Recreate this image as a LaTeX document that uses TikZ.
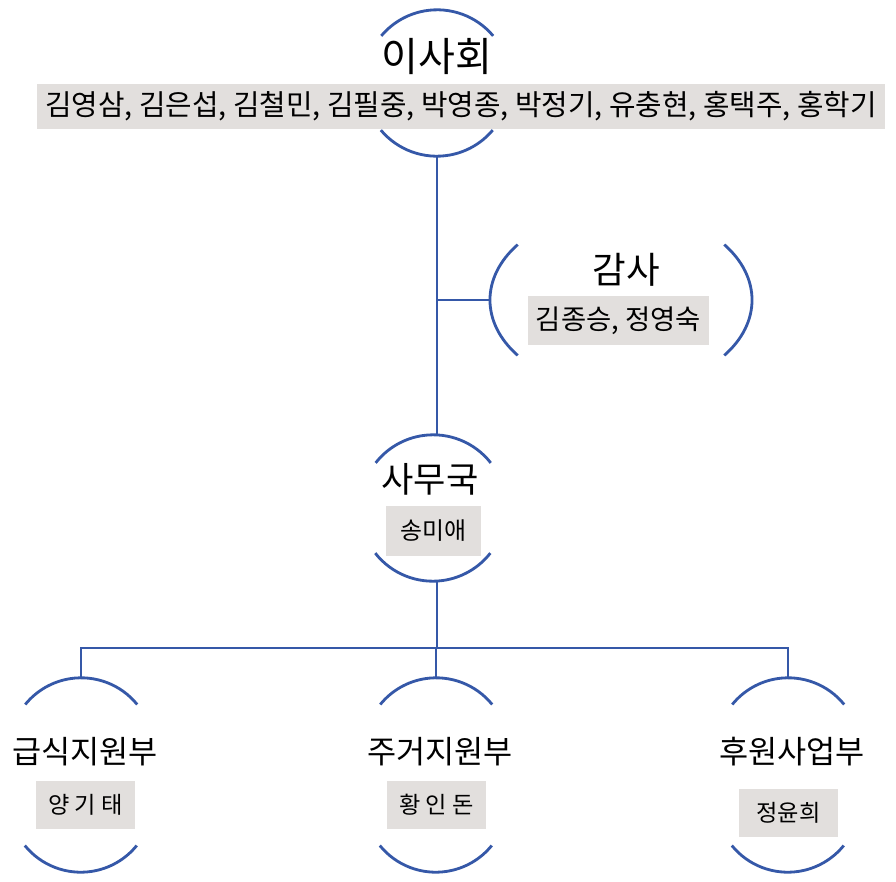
\documentclass[tikz,border=0pt]{standalone}
\usepackage{fontspec}
\setmainfont{Noto Sans CJK KR}
\usetikzlibrary{shapes.geometric}
\definecolor{orgblue}{HTML}{3558A8}
\definecolor{namegray}{HTML}{E2DFDD}
\begin{document}
\begin{tikzpicture}[x=0.025cm, y=0.025cm]
\tikzstyle{unit}=[circle, inner sep=0pt, minimum size=3.65cm]
\tikzstyle{rim}=[draw=orgblue, line width=2pt]
\tikzstyle{link}=[draw=orgblue, line width=2pt]
\tikzstyle{head}=[inner sep=0pt, text=black]
\tikzstyle{namebox}=[fill=namegray, inner sep=0pt, text=black]
  \useasboundingbox[fill=white] (0,0) rectangle (896,-882);
  % board
  \node[unit] (board) at (437,-83) {};
  \draw[rim] (board.40) arc[start angle=40, end angle=140, radius=1.825cm];
  \draw[rim] (board.220) arc[start angle=220, end angle=320, radius=1.825cm];
  \node[head, font=\fontsize{28.5pt}{32pt}\selectfont] (boardtitle) at (437,-57) {이사회};
  \node[namebox, minimum width=21.2cm, minimum height=1.125cm,
        font=\fontsize{20.5pt}{24pt}\selectfont] (boardnames) at (461,-106.5)
       {김영삼, 김은섭, 김철민, 김필중, 박영종, 박정기, 유충현, 홍택주, 홍학기};
  % audit
  \node[ellipse, inner sep=0pt, minimum width=6.55cm, minimum height=4.5cm] (audit) at (621,-300) {};
  \draw[rim] (audit.center) ++(142:3.275cm and 2.25cm)
    arc[start angle=142, end angle=218, x radius=3.275cm, y radius=2.25cm];
  \draw[rim] (audit.center) ++(-38:3.275cm and 2.25cm)
    arc[start angle=-38, end angle=38, x radius=3.275cm, y radius=2.25cm];
  \node[head, font=\fontsize{26pt}{30pt}\selectfont] (audittitle) at (626,-270) {감사};
  \node[namebox, minimum width=4.525cm, minimum height=1.225cm,
        font=\fontsize{19.5pt}{23pt}\selectfont] (auditnames) at (618.5,-320.5) {김종승, 정영숙};
  % office
  \node[unit] (office) at (433,-508) {};
  \draw[rim] (office.38) arc[start angle=38, end angle=142, radius=1.825cm];
  \draw[rim] (office.218) arc[start angle=218, end angle=322, radius=1.825cm];
  \node[head, font=\fontsize{25pt}{29pt}\selectfont] (officetitle) at (430,-479) {사무국};
  \node[namebox, minimum width=2.375cm, minimum height=1.25cm,
        font=\fontsize{17pt}{20pt}\selectfont] (officenames) at (433.5,-531) {송미애};
  \coordinate (bus) at (437,-648);
  % departments
  \foreach \place/\name/\title/\person/\boxat in {{(81,-750)/food/급식지원부/양 기 태/(85.5,-805)},
                                                 {(436,-750)/housing/주거지원부/황 인 돈/(436.5,-805)},
                                                 {(788,-750)/support/후원사업부/정윤희/(788.5,-812.5)}}
  {
    \node[unit, minimum size=3.6cm] (\name) at \place {};
    \draw[rim] (\name.39) arc[start angle=39, end angle=141, radius=1.8cm];
    \draw[rim] ([yshift=-1.25cm]\name.219) arc[start angle=219, end angle=321, radius=1.8cm];
    \node[head, font=\fontsize{22.5pt}{26pt}\selectfont] (\name title)
      at ([xshift=0.1cm, yshift=-0.05cm]\name.center) {\title};
    \node[namebox, minimum width=2.475cm, minimum height=1.2cm,
          font=\fontsize{16.5pt}{19pt}\selectfont] (\name names) at \boxat {\person};
  }
  % connectors
  \draw[link] (board.south) -- (board.south |- office.north);
  \draw[link] (audit.west) -- (audit.west -| board.south);
  \draw[link] (office.south -| bus) -- (bus);
  \draw[link] (food.north) |- (bus) -| (support.north);
  \draw[link] (housing.north) -- (housing.north |- bus);
\end{tikzpicture}
\end{document}
